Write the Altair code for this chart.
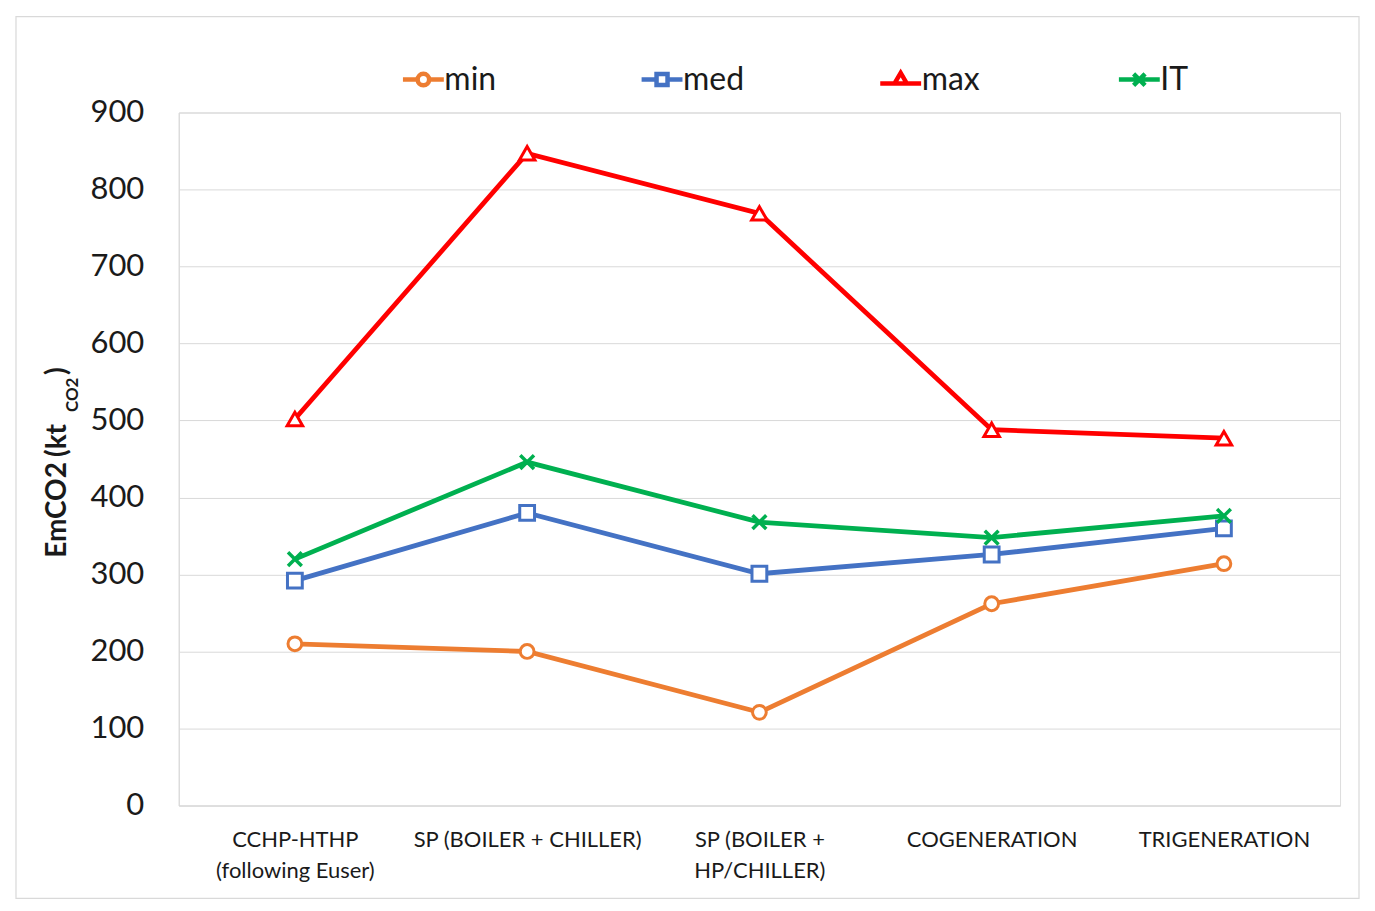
import altair as alt
import pandas as pd

categories = ["CCHP-HTHP|(following Euser)", "SP (BOILER + CHILLER)",
              "SP (BOILER +|HP/CHILLER)", "COGENERATION", "TRIGENERATION"]
series_names = ["min", "med", "max", "IT"]
min_vals = [210, 200, 121, 262, 314]
med_vals = [292, 380, 301, 326, 360]
max_vals = [502, 847, 769, 488, 477]
it_vals = [320, 446, 368, 348, 376]
y_ticks = [0, 100, 200, 300, 400, 500, 600, 700, 800, 900]
colors = ["#ED7D31", "#4472C4", "#FF0000", "#00B050"]

rows = []
for name, vals in zip(series_names, [min_vals, med_vals, max_vals, it_vals]):
    for c, v in zip(categories, vals):
        rows.append({"cat": c, "series": name, "value": v})
df = pd.DataFrame(rows)

W, H = 1163, 694
FONT = "Lato"
GRID = "#d9d9d9"
TXT = "#1a1a1a"

x_enc = alt.X("cat:N", sort=categories,
              scale=alt.Scale(type="point", domain=categories, padding=0.5),
              axis=alt.Axis(title=None, labelExpr="split(datum.label, '|')",
                            labelAngle=0, labelFontSize=22, labelLineHeight=31,
                            labelPadding=24, ticks=False, domainColor=GRID,
                            labelColor=TXT, grid=False, labelLimit=400,
                            labelFont=FONT, labelBaseline="top"))
y_enc = alt.Y("value:Q", scale=alt.Scale(domain=[0, 900], nice=False),
              axis=alt.Axis(title=None, values=y_ticks, labelFontSize=31,
                            labelPadding=35, ticks=False, domainColor=GRID,
                            gridColor=GRID, labelColor=TXT, labelFont=FONT))
color_scale = alt.Scale(domain=series_names, range=colors)

base = alt.Chart(df)

shapes = {"min": ("circle", 190), "med": ("square", 220),
          "max": ("triangle-up", 240), "IT": ("M-1,-1L1,1M-1,1L1,-1", 190)}

line_layers = []
point_layers = []
for s, col in zip(series_names, colors):
    sub = base.transform_filter(alt.datum.series == s)
    line_layers.append(sub.mark_line(strokeWidth=4.8, color=col).encode(x=x_enc, y=y_enc))
    shp, sz = shapes[s]
    if s == "IT":
        point_layers.append(sub.mark_point(shape=shp, size=sz, filled=False, stroke=col,
                                           strokeWidth=3.5, opacity=1).encode(x=x_enc, y=y_enc))
    else:
        point_layers.append(sub.mark_point(shape=shp, size=sz, filled=True, fill="white",
                                           stroke=col, strokeWidth=3, opacity=1).encode(x=x_enc, y=y_enc))

legend_paths = [
    "M-1.6,0H-0.45M0.45,0H1.6M-0.45,0A0.45,0.45,0,1,0,0.45,0A0.45,0.45,0,1,0,-0.45,0Z",
    "M-1.6,0H-0.43M0.43,0H1.6M-0.43,-0.43H0.43V0.43H-0.43Z",
    "M-1.6,0.3H1.6M-0.48,0.3L0,-0.52L0.48,0.3Z",
    "M-1.6,0H1.6M-0.45,-0.45L0.45,0.45M-0.45,0.45L0.45,-0.45",
]
leg = alt.Legend(orient="none", legendX=229, legendY=-49, direction="horizontal",
                 columns=4, gridAlign="all", columnPadding=126, title=None,
                 labelFont=FONT, labelFontSize=32, labelColor=TXT,
                 symbolSize=655, symbolStrokeWidth=4.5, symbolOpacity=1,
                 labelOffset=5, padding=0)
legend_layer = base.mark_point(opacity=0, filled=False).encode(
    x=x_enc, y=y_enc,
    color=alt.Color("series:N", scale=color_scale, legend=leg),
    shape=alt.Shape("series:N", scale=alt.Scale(domain=series_names, range=legend_paths),
                    legend=leg),
)

one = pd.DataFrame({"a": [0]})
frame = alt.Chart(one).mark_rect(fill="transparent", stroke=GRID, strokeWidth=1.2).encode(
    x=alt.value(-163), x2=alt.value(1182), y=alt.value(-96), y2=alt.value(787))


def vtext(txt, y, x=-120.5, size=28):
    return alt.Chart(one).mark_text(angle=270, align="left", baseline="middle", font=FONT,
                                    fontWeight="bold", fontSize=size, color=TXT).encode(
        x=alt.value(x), y=alt.value(y), text=alt.value(txt))


t1 = vtext("EmCO2", 446)
t1b = vtext("(kt", 345)
t2 = vtext("CO2", 300, x=-106, size=17)
t3 = vtext(")", 263)

chart = alt.layer(frame, *line_layers, *point_layers, legend_layer, t1, t1b, t2, t3).properties(
    width=W, height=H, padding=7, background="white"
).configure_view(stroke=None).configure(font=FONT)

chart.save("out.html", embed_options={"renderer": "svg", "actions": False})
